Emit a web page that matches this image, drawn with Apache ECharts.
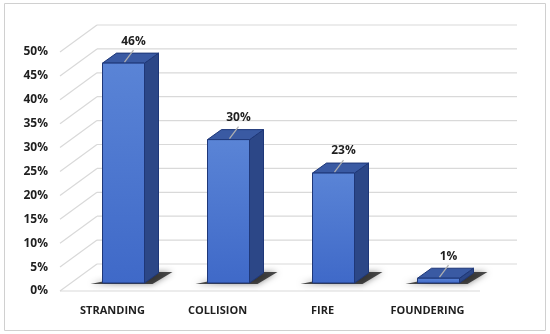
<!DOCTYPE html>
<html>
<head>
<meta charset="utf-8">
<script src="https://cdn.jsdelivr.net/npm/echarts@6/dist/echarts.min.js"></script>
<style>
  html, body { margin: 0; padding: 0; background: #fff; }
  #chart { width: 550px; height: 334px; }
</style>
</head>
<body>
<div id="chart"></div>
<script>
// 数据
const categories = ['STRANDING', 'COLLISION', 'FIRE', 'FOUNDERING'];
const values = [46, 30, 23, 1];
const levels = [0, 5, 10, 15, 20, 25, 30, 35, 40, 45, 50];

// 3D 偏移（背墙 / 柱体深度）
const WALL_DX = 37, WALL_DY = -27;
const BAR_SHIFT_X = 11, BAR_SHIFT_Y = -8;
const BAR_W = 42, BAR_DX = 14, BAR_DY = -10;

const chart = echarts.init(document.getElementById('chart'));

/**
 * 背墙网格线 + 斜线
 */
function renderGrid(params, api) {
    const rect = params.coordSys;
    const y = api.coord([0, api.value(1)])[1];
    const x0 = rect.x;
    const x1 = rect.x + rect.width;
    const style = { stroke: '#d9d9d9', lineWidth: 1.2 };
    const children = [
        { type: 'line', shape: { x1: x0, y1: y, x2: x0 + WALL_DX, y2: y + WALL_DY }, style: style },
        { type: 'line', shape: { x1: x0 + WALL_DX, y1: y + WALL_DY, x2: x1 + WALL_DX, y2: y + WALL_DY }, style: style }
    ];
    if (api.value(1) === 0) {
        children.push({ type: 'line', shape: { x1: x0, y1: y, x2: x1, y2: y }, style: style });
    }
    return { type: 'group', children: children };
}

/**
 * 3D柱体
 */
function renderBar(params, api) {
    const top = api.coord([api.value(0), api.value(1)]);
    const base = api.coord([api.value(0), 0]);
    const cx = top[0] + BAR_SHIFT_X;
    const yt = top[1] + BAR_SHIFT_Y;
    const yb = base[1] + BAR_SHIFT_Y;
    const x0 = cx - BAR_W / 2;
    const x1 = cx + BAR_W / 2;
    const edge = '#1e3778';
    return {
        type: 'group',
        children: [
            {
                type: 'polygon',
                shape: { points: [[x0 - 12, yb + 1], [x1 + 8, yb + 1], [x1 + 28, yb - 11], [x1 + 4, yb - 11]] },
                style: { fill: 'rgba(20,20,20,0.75)', shadowBlur: 6, shadowColor: 'rgba(0,0,0,0.6)' }
            },
            {
                type: 'polygon',
                shape: { points: [[x1, yt], [x1 + BAR_DX, yt + BAR_DY], [x1 + BAR_DX, yb + BAR_DY], [x1, yb]] },
                style: { fill: '#2c4787', stroke: edge, lineWidth: 1 }
            },
            {
                type: 'polygon',
                shape: { points: [[x0, yt], [x1, yt], [x1 + BAR_DX, yt + BAR_DY], [x0 + BAR_DX, yt + BAR_DY]] },
                style: { fill: '#3a5aa3', stroke: edge, lineWidth: 1 }
            },
            {
                type: 'rect',
                shape: { x: x0, y: yt, width: BAR_W, height: yb - yt },
                style: {
                    fill: new echarts.graphic.LinearGradient(0, 0, 0, 1, [
                        { offset: 0, color: '#5a84d6' },
                        { offset: 1, color: '#3f69c8' }
                    ]),
                    stroke: edge, lineWidth: 1
                }
            },
            {
                type: 'line',
                shape: { x1: cx + 1, y1: yt - 1, x2: cx + 10, y2: yt - 13 },
                style: { stroke: '#b0b0b0', lineWidth: 1.2 }
            },
            {
                type: 'text',
                style: {
                    text: api.value(1) + '%',
                    x: cx + 10, y: yt - 22,
                    align: 'center', verticalAlign: 'middle',
                    fill: '#1f1f1f',
                    font: 'bold 12px "Open Sans", sans-serif'
                }
            }
        ]
    };
}

const option = {
    animation: false,
    graphic: [{
        type: 'rect',
        shape: { x: 4.5, y: 3.5, width: 541, height: 327 },
        style: { fill: 'none', stroke: '#d0d0d0', lineWidth: 1 }
    }],
    grid: { left: 60, right: 70, top: 52, bottom: 43 },
    xAxis: {
        type: 'category',
        data: categories,
        axisLine: { show: false },
        axisTick: { show: false },
        axisLabel: {
            margin: 14,
            color: '#1f1f1f',
            fontWeight: 'bold',
            fontSize: 11,
            fontFamily: 'Open Sans'
        }
    },
    yAxis: {
        type: 'value',
        min: 0,
        max: 50,
        interval: 5,
        axisLine: { show: false },
        axisTick: { show: false },
        splitLine: { show: false },
        axisLabel: {
            formatter: '{value}%',
            margin: 12,
            padding: [5, 0, 0, 0],
            color: '#1f1f1f',
            fontWeight: 'bold',
            fontSize: 12,
            fontFamily: 'Open Sans'
        }
    },
    series: [
        {
            type: 'custom',
            renderItem: renderGrid,
            data: levels.map(function (v) { return [0, v]; }),
            z: 1,
            silent: true
        },
        {
            type: 'custom',
            renderItem: renderBar,
            data: values.map(function (v, i) { return [i, v]; }),
            z: 2
        }
    ]
};

chart.setOption(option);
</script>
</body>
</html>
